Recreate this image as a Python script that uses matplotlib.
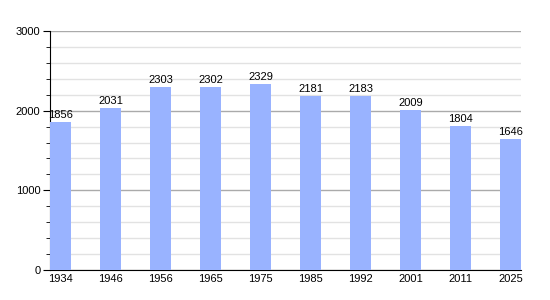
import matplotlib
matplotlib.use('Agg')
from matplotlib import pyplot as plt
from matplotlib.ticker import MultipleLocator
import numpy as np

years = ['1934', '1946', '1956', '1965', '1975', '1985', '1992', '2001', '2011', '2025']
population = [1856, 2031, 2303, 2302, 2329, 2181, 2183, 2009, 1804, 1646]

plt.rcParams['font.family'] = ['Liberation Sans', 'DejaVu Sans']

fig = plt.figure(figsize=(5.5, 3), dpi=100)
ax = fig.add_axes([50 / 550, 30 / 300, 471 / 550, 239 / 300])

xs = np.arange(len(years))
w = 0.42
ax.bar(xs, population, width=w, align='edge', color='#99b3ff', zorder=3)
for x, v in zip(xs, population):
    ax.text(x + w / 2, v + 25, str(v), ha='center', va='bottom', fontsize=8, zorder=4)

ax.set_xlim(0, len(years) - 1 + w)
ax.set_ylim(0, 3000)
ax.set_xticks(xs + w / 2)
ax.set_xticklabels(years, fontsize=8)
ax.tick_params(axis='x', length=0, pad=3)

ax.yaxis.set_major_locator(MultipleLocator(1000))
ax.yaxis.set_minor_locator(MultipleLocator(200))
ax.tick_params(axis='y', which='major', length=5, labelsize=8, pad=2)
ax.tick_params(axis='y', which='minor', length=3)
ax.grid(axis='y', which='major', color='#aaaaaa', linewidth=1, zorder=0)
ax.grid(axis='y', which='minor', color='#e2e2e2', linewidth=1, zorder=0)

ax.spines['top'].set_visible(False)
ax.spines['right'].set_visible(False)

fig.savefig('out.png', dpi=100)
